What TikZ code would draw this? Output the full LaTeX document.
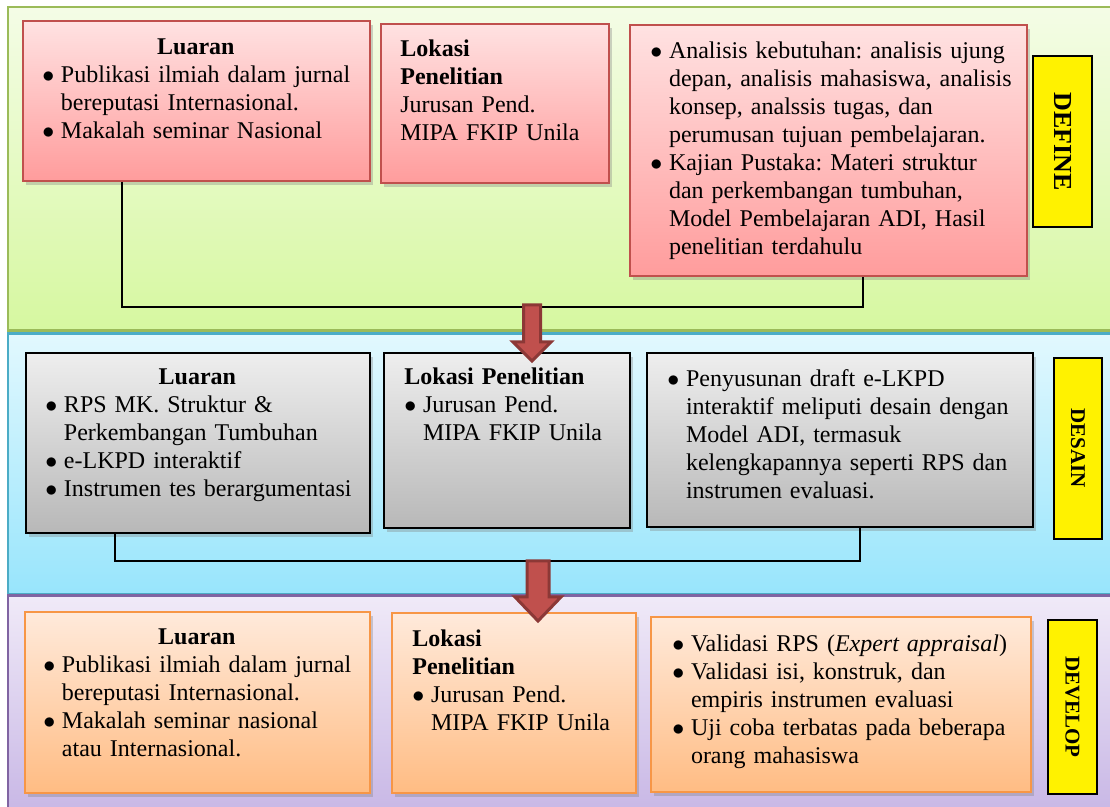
\documentclass[tikz,border=0pt]{standalone}
\usepackage{fontspec}
\setmainfont{Liberation Serif}
\usetikzlibrary{positioning}
\usetikzlibrary{fit}
\usetikzlibrary{shadows}

\definecolor{deftop}{HTML}{F4FCE6}
\definecolor{defbot}{HTML}{D6F8A0}
\definecolor{defline}{HTML}{9BBB59}
\definecolor{destop}{HTML}{E2F8FE}
\definecolor{desbot}{HTML}{98E5FC}
\definecolor{desline}{HTML}{4BACC6}
\definecolor{devtop}{HTML}{F0EAF8}
\definecolor{devbot}{HTML}{C5B3E4}
\definecolor{devline}{HTML}{8064A2}
\definecolor{redtop}{HTML}{FFE2E2}
\definecolor{redbot}{HTML}{FF9C9C}
\definecolor{redline}{HTML}{C0504D}
\definecolor{graytop}{HTML}{EEEEEE}
\definecolor{graybot}{HTML}{B8B8B8}
\definecolor{ortop}{HTML}{FFEADB}
\definecolor{orbot}{HTML}{FFBC83}
\definecolor{orline}{HTML}{F79646}
\definecolor{arrowfill}{HTML}{C0504D}
\definecolor{arrowline}{HTML}{8C3836}

\newcommand{\butir}[1]{\noindent\hangindent=9.3pt\hangafter=1\makebox[9.3pt][l]{$\bullet$}#1\par}
\newcommand{\judul}[2]{\noindent\strut\makebox[#1]{\textbf{#2}}\par}

\begin{document}
\begin{tikzpicture}[
    x=0.5pt, y=-0.5pt,
    band/.style={line width=1.3pt, inner sep=0pt},
    defband/.style={band, draw=defline, top color=deftop, bottom color=defbot},
    desband/.style={band, draw=desline, top color=destop, bottom color=desbot},
    devband/.style={band, draw=devline, top color=devtop, bottom color=devbot},
    kotak/.style={
        inner sep=0pt,
        line width=1pt,
        drop shadow={shadow xshift=1.5pt, shadow yshift=-2pt, opacity=0.35}
    },
    merah/.style={kotak, draw=redline, top color=redtop, bottom color=redbot},
    abu/.style={kotak, draw=black, top color=graytop, bottom color=graybot},
    oranye/.style={kotak, draw=orline, top color=ortop, bottom color=orbot},
    isi/.style={
        inner sep=0pt,
        anchor=north west,
        text width=#1,
        font=\fontsize{12}{14}\selectfont,
        execute at begin node={\setlength{\parindent}{0pt}\raggedright\frenchspacing\hyphenpenalty=10000}
    },
    tahap/.style={draw=black, line width=1.3pt, fill=yellow, rotate=-90, inner sep=0pt},
    garis/.style={line width=1pt},
    panah/.style={fill=arrowfill, draw=arrowline, line width=1.5pt, line join=miter}
]
\clip (0,0) rectangle (1110,807);

% tiga tahap
\node [defband, fit={(8,7) (1125,330.5)}] (bandD) {};
\node [desband, fit={(8,333.5) (1125,594)}] (bandS) {};
\node [devband, fit={(8,595.5) (1125,830)}] (bandV) {};

% DEFINE
\node [merah, fit={(23,21) (370,181)}] (luaranD) {};
\node [merah, fit={(381,24) (609,183)}] (lokasiD) {};
\node [merah, fit={(630,25) (1027,276)}] (analisisD) {};

\node [isi=170pt] (luaranDt) at ([shift={(20,14.4)}]luaranD.north west) {%
    \judul{153.5pt}{Luaran}
    \butir{Publikasi ilmiah dalam jurnal\newline bereputasi Internasional.}
    \butir{Makalah seminar Nasional}};
\node [isi=100pt] (lokasiDt) at ([shift={(20,13.4)}]lokasiD.north west) {%
    \strut\textbf{Lokasi}\\\textbf{Penelitian}\\Jurusan Pend.\\MIPA FKIP Unila};
\node [isi=190pt] (analisisDt) at ([shift={(21,14.4)}]analisisD.north west) {%
    \butir{\strut Analisis kebutuhan: analisis ujung\newline depan, analisis mahasiswa, analisis\newline konsep, analssis tugas, dan\newline perumusan tujuan pembelajaran.}
    \butir{Kajian Pustaka: Materi struktur\newline dan perkembangan tumbuhan,\newline Model Pembelajaran ADI, Hasil\newline penelitian terdahulu}};

\node [tahap, minimum width=85.5pt, minimum height=29.5pt, font=\fontsize{13}{15}\selectfont\bfseries] (labD) at (1062.5,141.5) {DEFINE};

% DESAIN
\node [abu, fit={(26,353) (370,533)}] (luaranS) {};
\node [abu, fit={(384,353) (630,528)}] (lokasiS) {};
\node [abu, fit={(647,353) (1033,527)}] (penyusunanS) {};

\node [isi=170pt] (luaranSt) at ([shift={(20,12.4)}]luaranS.north west) {%
    \judul{152pt}{Luaran}
    \butir{RPS MK. Struktur \&\newline Perkembangan Tumbuhan}
    \butir{e-LKPD interaktif}
    \butir{Instrumen tes berargumentasi}};
\node [isi=110pt] (lokasiSt) at ([shift={(21,12.4)}]lokasiS.north west) {%
    \strut\textbf{Lokasi Penelitian}\par
    \butir{Jurusan Pend.\newline MIPA FKIP Unila}};
\node [isi=185pt] (penyusunanSt) at ([shift={(21,14.4)}]penyusunanS.north west) {%
    \butir{\strut Penyusunan draft e-LKPD\newline interaktif meliputi desain dengan\newline Model ADI, termasuk\newline kelengkapannya seperti RPS dan\newline instrumen evaluasi.}};

\node [tahap, minimum width=90.5pt, minimum height=24pt, font=\fontsize{10.5}{12}\selectfont\bfseries] (labS) at (1078,448.5) {DESAIN};

% DEVELOP
\node [oranye, fit={(25,612) (370,793)}] (luaranV) {};
\node [oranye, fit={(392,613) (636,793)}] (lokasiV) {};
\node [oranye, fit={(651,617) (1031,792)}] (validasiV) {};

\node [isi=170pt] (luaranVt) at ([shift={(19,13.4)}]luaranV.north west) {%
    \judul{153.5pt}{Luaran}
    \butir{Publikasi ilmiah dalam jurnal\newline bereputasi Internasional.}
    \butir{Makalah seminar nasional\newline atau Internasional.}};
\node [isi=110pt] (lokasiVt) at ([shift={(21,14.4)}]lokasiV.north west) {%
    \strut\textbf{Lokasi}\\\textbf{Penelitian}\par
    \butir{Jurusan Pend.\newline MIPA FKIP Unila}};
\node [isi=185pt] (validasiVt) at ([shift={(22,15.4)}]validasiV.north west) {%
    \butir{\strut Validasi RPS (\textit{Expert appraisal})}
    \butir{Validasi isi, konstruk, dan\newline empiris instrumen evaluasi}
    \butir{Uji coba terbatas pada beberapa\newline orang mahasiswa}};

\node [tahap, minimum width=87pt, minimum height=24.5pt, font=\fontsize{10.5}{12}\selectfont\bfseries] (labV) at (1072.5,707) {DEVELOP};

% garis penghubung
\draw[garis] ([shift={(100,0)}]luaranD.south west) -- ++(0,125) -| ([shift={(-165,0)}]analisisD.south east);
\draw[garis] ([shift={(90,0)}]luaranS.south west) -- ++(0,27) -| ([shift={(-174,0)}]penyusunanS.south east);

% panah antar tahap
\coordinate (a1s) at (532,305);
\coordinate (a1e) at (532,361);
\filldraw[panah] (a1s) ++(-8.5,0) -- ++(17,0) -- ++(0,37) -- ++(10.5,0) -- (a1e) -- ++(-19,-19) -- ++(10.5,0) -- cycle;
\coordinate (a2s) at (538,561);
\coordinate (a2e) at (538,621);
\filldraw[panah] (a2s) ++(-11,0) -- ++(22,0) -- ++(0,36) -- ++(12,0) -- (a2e) -- ++(-23,-24) -- ++(12,0) -- cycle;
\end{tikzpicture}
\end{document}
